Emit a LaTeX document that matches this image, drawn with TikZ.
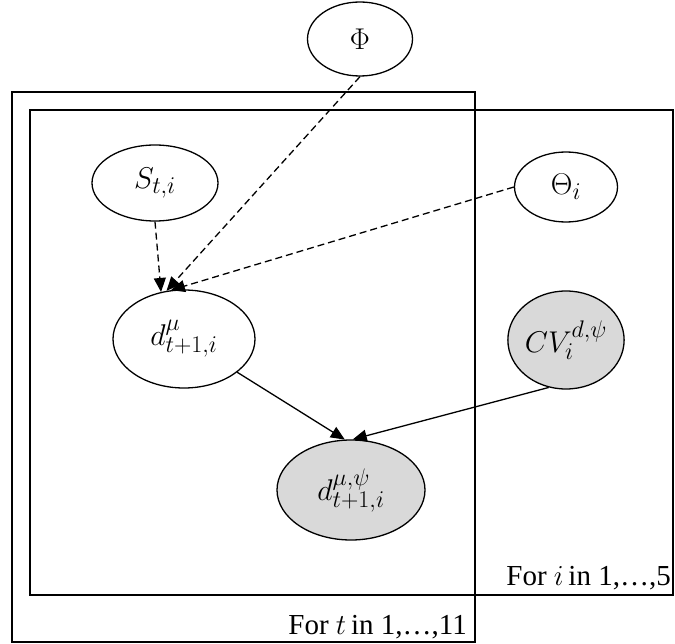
\RequirePackage{fix-cm}
\documentclass[tikz,border=0pt]{standalone}
\usepackage{fontspec}
\setmainfont{Liberation Serif}
\DeclareMathSizes{30}{30}{24}{19}
\DeclareMathSizes{29}{29}{23}{18}
\usetikzlibrary{shapes.geometric,arrows.meta}
\definecolor{obsgray}{HTML}{D9D9D9}
\begin{document}
\begin{tikzpicture}[x=1pt,y=-1pt,
  var/.style={ellipse,draw,fill=white,line width=1.3pt,inner sep=0pt,font=\fontsize{30}{32}\selectfont},
  obs/.style={var,fill=obsgray},
  plate/.style={draw,line width=1.4pt},
  dep/.style={line width=1.3pt,dash pattern=on 7pt off 4pt,-{Triangle[length=14pt,width=12pt]}},
  infl/.style={line width=1.3pt,-{Triangle[length=14pt,width=12pt]}},
  platelabel/.style={font=\fontsize{29}{32}\selectfont,anchor=base east,inner sep=0pt}]
\useasboundingbox (0,0) rectangle (675,644);
\draw[plate] (12,92) rectangle (475,642);
\draw[plate] (30,110) rectangle (673,595);
\node[platelabel] (li) at (671,585) {For $i$\,in 1,…,5};
\node[platelabel] (lt) at (467,634) {For $t$\,in 1,…,11};
\node[var,minimum width=105pt,minimum height=74pt] (Phi) at (360,39) {$\Phi$};
\node[var,minimum width=126pt,minimum height=76pt] (S) at (155,183) {$S_{t,i}$};
\node[var,minimum width=103pt,minimum height=70pt] (Theta) at (566,187) {$\Theta_i$};
\node[var,minimum width=142pt,minimum height=98pt] (dmu) at (184,339) {$d^{\mu}_{t+1,i}$};
\node[obs,minimum width=104pt,minimum height=98pt] (CV) at (566,340) {$CV_i^{d,\psi}$};
\node[obs,minimum width=148pt,minimum height=100pt] (dmp) at (351,490) {$d^{\mu,\psi}_{t+1,i}$};
\draw[dep] (S.south) -- (dmu.116);
\draw[dep] (Phi.south) -- (dmu.110);
\draw[dep] (Theta.west) -- (dmu.105);
\draw[infl] (dmu) -- (dmp.97);
\draw[infl] (CV.250) -- (dmp.88);
\end{tikzpicture}
\end{document}
